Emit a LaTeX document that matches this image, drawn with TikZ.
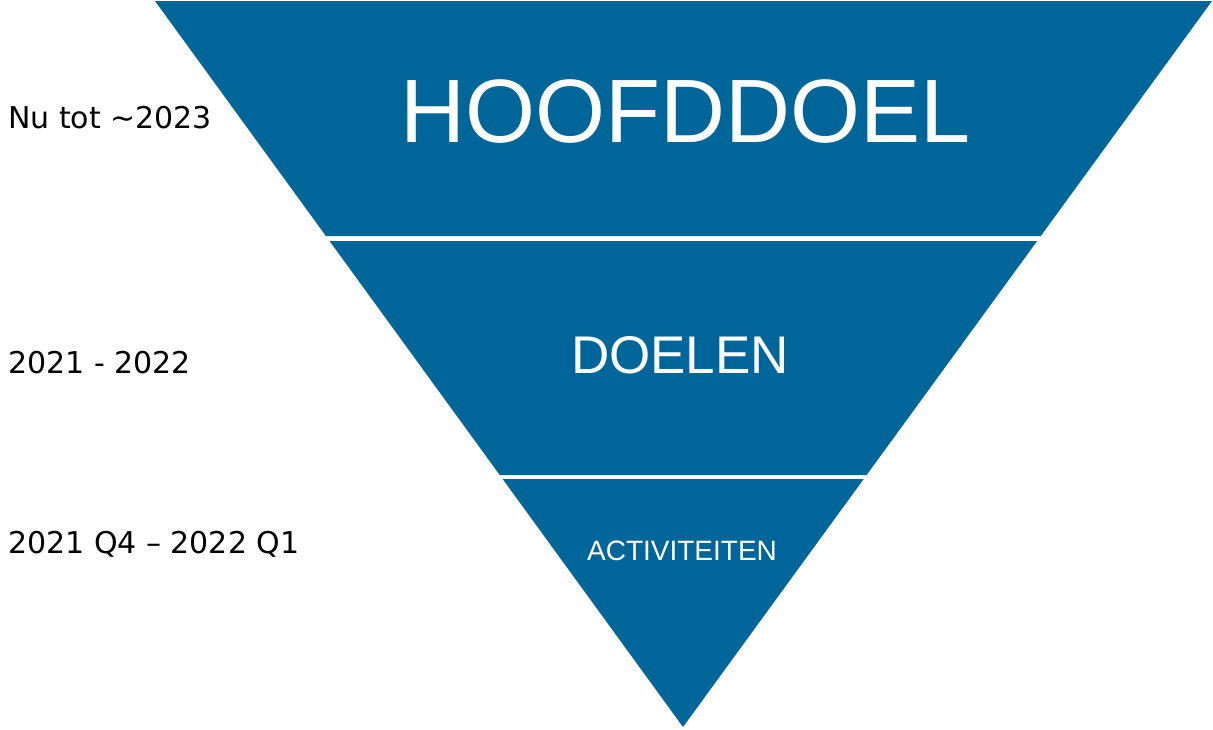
\documentclass[tikz,border=0pt]{standalone}
\usepackage{fontspec}
\setmainfont{Liberation Sans}
\newfontfamily\labelfont{DejaVu Sans}
\usetikzlibrary{calc}
\definecolor{pyrblue}{RGB}{0,102,154}
\tikzset{
  band/.style={fill=pyrblue, draw=none},
  bandtext/.style={text=white, inner sep=0pt, anchor=center},
  sidelabel/.style={font=\labelfont\fontsize{30}{32}\selectfont, text=black, inner sep=0pt, anchor=west}
}
\begin{document}
\begin{tikzpicture}[x=1pt,y=-1pt]
\useasboundingbox (0,0) rectangle (1213,729);
\coordinate (tl) at (155,1);
\coordinate (tr) at (1212,1);
\coordinate (apex) at (683,727);
% band 1
\fill[band] (tl) -- (tr) -- ($(tr)!0.3237!(apex)$) -- ($(tl)!0.3237!(apex)$) -- cycle;
% band 2
\fill[band] ($(tl)!0.3306!(apex)$) -- ($(tr)!0.3306!(apex)$) -- ($(tr)!0.6529!(apex)$) -- ($(tl)!0.6529!(apex)$) -- cycle;
% band 3
\fill[band] ($(tl)!0.6584!(apex)$) -- ($(tr)!0.6584!(apex)$) -- (apex) -- cycle;

\node[bandtext, font=\fontsize{90}{90}\selectfont] (hoofd) at (686,112) {HOOFDDOEL};
\node[bandtext, font=\fontsize{53}{53}\selectfont] (doelen) at (680,355) {DOELEN};
\node[bandtext, font=\fontsize{28}{28}\selectfont] (act) at (682,551) {ACTIVITEITEN};

\node[sidelabel] (l1) at (8,118) {Nu tot \textasciitilde 2023};
\node[sidelabel] (l2) at (8,363) {2021 - 2022};
\node[sidelabel] (l3) at (8,544) {2021 Q4 – 2022 Q1};
\end{tikzpicture}
\end{document}
